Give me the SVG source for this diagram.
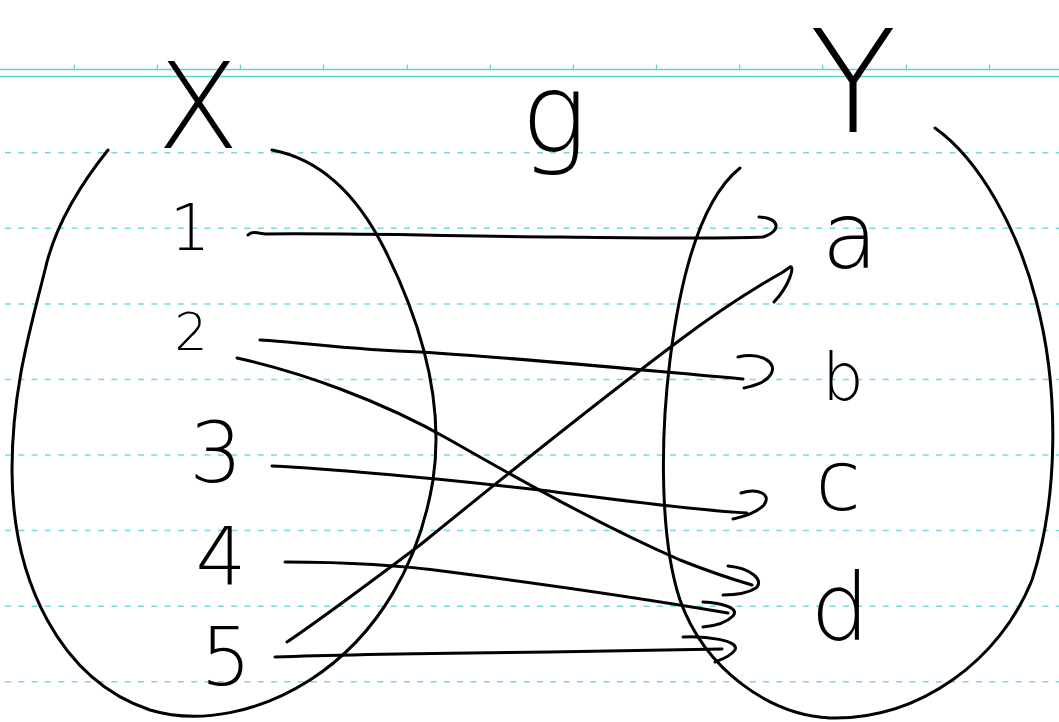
<svg xmlns="http://www.w3.org/2000/svg" width="1059" height="722" viewBox="0 0 1059 722">
<style>
.rule{stroke:#5fd0d6;stroke-width:1.6;fill:none}
.tick{stroke:#5fd0d6;stroke-width:1.2}
.dash{stroke:#5fd3da;stroke-width:1.5;stroke-dasharray:6 7.3;stroke-dashoffset:-5;fill:none;opacity:0.85}
.ink{stroke:#000;stroke-width:3;fill:none;stroke-linecap:round;stroke-linejoin:round}
.lbl{font-family:"DejaVu Sans","Liberation Sans",sans-serif;font-weight:200;fill:#000;text-anchor:middle}
</style>
<rect width="1059" height="722" fill="#fff"/>
<g id="paper">
<line class="rule" x1="0" y1="69.5" x2="1059" y2="69.5"/>
<line class="rule" x1="0" y1="76.5" x2="1059" y2="76.5"/>
<g class="tick">
<line x1="74.3" y1="64.5" x2="74.3" y2="69"/><line x1="157.4" y1="64.5" x2="157.4" y2="69"/><line x1="240.4" y1="64.5" x2="240.4" y2="69"/><line x1="323.5" y1="64.5" x2="323.5" y2="69"/><line x1="407.3" y1="64.5" x2="407.3" y2="69"/><line x1="490.3" y1="64.5" x2="490.3" y2="69"/><line x1="573.4" y1="64.5" x2="573.4" y2="69"/><line x1="656.5" y1="64.5" x2="656.5" y2="69"/><line x1="739.6" y1="64.5" x2="739.6" y2="69"/><line x1="822.6" y1="64.5" x2="822.6" y2="69"/><line x1="906.4" y1="64.5" x2="906.4" y2="69"/><line x1="989.5" y1="64.5" x2="989.5" y2="69"/>
</g>
<line class="dash" x1="0" y1="152.7" x2="1059" y2="152.7"/>
<line class="dash" x1="0" y1="228.3" x2="1059" y2="228.3"/>
<line class="dash" x1="0" y1="304" x2="1059" y2="304"/>
<line class="dash" x1="0" y1="379.5" x2="1059" y2="379.5"/>
<line class="dash" x1="0" y1="455" x2="1059" y2="455"/>
<line class="dash" x1="0" y1="530.6" x2="1059" y2="530.6"/>
<line class="dash" x1="0" y1="606.2" x2="1059" y2="606.2"/>
<line class="dash" x1="0" y1="681.7" x2="1059" y2="681.7"/>
</g>
<g id="setX">
<path class="ink" d="M108,150 C 80,185 55,225 45,270 C 30,330 12,390 12,470 C 12,580 60,680 150,710 C 200,725 260,712 310,680 C 380,635 420,560 433,480 C 445,400 420,320 385,250 C 360,200 325,160 272,150"/>
<text class="lbl" x="198" y="148" font-size="120">X</text>
</g>
<g id="setY">
<path class="ink" d="M740,168 C 700,200 680,280 670,360 C 660,440 660,540 680,600 C 705,670 770,715 830,718 C 920,720 1000,660 1032,580 C 1058,500 1060,390 1036,300 C 1018,230 980,160 935,128"/>
<text class="lbl" x="853" y="132" font-size="142">Y</text>
</g>
<g id="label-g"><text class="lbl" x="554" y="152" font-size="110">g</text></g>
<g id="n1"><text class="lbl" x="190" y="250" font-size="64">1</text></g>
<g id="n2"><text class="lbl" x="191" y="350" font-size="52">2</text></g>
<g id="n3"><text class="lbl" x="216" y="482" font-size="84">3</text></g>
<g id="n4"><text class="lbl" x="221" y="585" font-size="80">4</text></g>
<g id="n5"><text class="lbl" x="226" y="685" font-size="80">5</text></g>
<g id="na"><text class="lbl" x="850" y="268" font-size="92">a</text></g>
<g id="nb"><text class="lbl" x="843" y="400" font-size="66">b</text></g>
<g id="nc"><text class="lbl" x="838" y="510" font-size="83">c</text></g>
<g id="nd"><text class="lbl" x="840" y="640" font-size="93">d</text></g>
<g id="connectors">
<path class="ink" d="M248,235 C 252,231 258,233 265,234 C 350,233 450,236 560,237 C 650,238 720,239 763,237 C 782,231 780,218 759,217"/>
<path class="ink" d="M260,340 C 300,342 350,350 420,352 C 520,358 640,370 743,379"/>
<path class="ink" d="M738,357 C 760,352 778,362 771,374 C 766,383 752,386 744,388"/>
<path class="ink" d="M237,358 C 300,372 380,400 450,440 C 520,480 600,525 680,560 C 710,572 735,580 752,585"/>
<path class="ink" d="M728,566 C 750,568 765,580 756,588 C 748,593 735,595 723,595"/>
<path class="ink" d="M272,466 C 350,470 450,480 540,490 C 620,500 690,510 747,513"/>
<path class="ink" d="M741,493 C 758,488 772,494 764,505 C 756,513 745,516 733,519"/>
<path class="ink" d="M285,562 C 340,562 400,565 450,572 C 550,585 640,598 728,613"/>
<path class="ink" d="M703,602 C 722,603 740,608 733,616 C 726,623 715,626 703,627"/>
<path class="ink" d="M275,657 C 350,654 450,653 550,652 C 620,651 680,650 722,649"/>
<path class="ink" d="M683,637 C 705,636 740,640 735,650 C 730,657 720,660 715,662"/>
<path class="ink" d="M287,642 C 320,620 360,590 420,545 C 500,480 600,400 680,340 C 720,310 760,285 783,272 L 790,267 C 795,265 790,285 774,302"/>
</g>
</svg>
